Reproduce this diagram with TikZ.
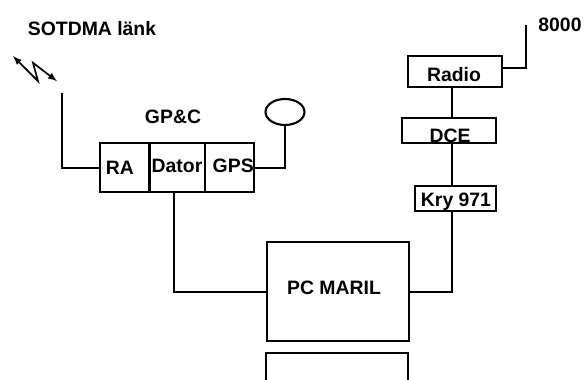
\documentclass[tikz,border=0pt]{standalone}
\usepackage{fontspec}
\setmainfont{Liberation Sans}
\usetikzlibrary{arrows}
\usetikzlibrary{shapes.geometric}
\tikzset{
  box/.style={draw, line width=1.5pt, inner sep=0pt},
  lbl/.style={inner sep=0pt, font=\bfseries\fontsize{13.8}{16}\selectfont},
  wire/.style={line width=1.5pt},
  thinwire/.style={line width=.9pt}
}

\begin{document}
\begin{tikzpicture}[>=latex]
      \useasboundingbox (0, 0) rectangle (14.6, 9.5);
      % GP&C unit
      \node[box, minimum width=1.24cm, minimum height=1.225cm] (ra) at (3.12, 5.31) {};
      \node[box, minimum width=1.39cm, minimum height=1.225cm] (dator) at (4.43, 5.31) {};
      \node[box, minimum width=1.24cm, minimum height=1.225cm] (gps) at (5.74, 5.31) {};
      \node[box, ellipse, minimum width=.975cm, minimum height=.65cm] (gpsant) at (7.125, 6.7) {};
      % right column
      \node[box, minimum width=2.34cm, minimum height=.775cm] (radio) at (11.37, 7.71) {};
      \node[box, minimum width=2.34cm, minimum height=.63cm] (dce) at (11.22, 6.24) {};
      \node[box, minimum width=2.02cm, minimum height=.625cm] (kry) at (11.38, 4.54) {};
      \node[box, minimum width=3.55cm, minimum height=2.475cm] (pc) at (8.44, 2.21) {};
      % free ends
      \coordinate (mast) at (1.55, 7.175);
      \coordinate (tap) at (13.15, 8.875);
      \coordinate (busx) at (11.3, 0);
      \coordinate (datorx) at (4.35, 0);
      \coordinate (zigA) at (.325, 8.1);
      \coordinate (zigB) at (.95, 7.47);
      \coordinate (zigC) at (.825, 7.93);
      \coordinate (zigD) at (1.425, 7.47);
      % connectors
      \draw[wire] (mast) |- (ra.west);
      \draw[wire] (gpsant.south) |- (gps.east);
      \draw[wire] (dator.south -| datorx) |- (pc.west);
      \draw[wire] (kry.south -| busx) |- (pc.east);
      \draw[thinwire] (radio.south -| busx) -- (dce.north -| busx);
      \draw[thinwire] (dce.south -| busx) -- (kry.north -| busx);
      \draw[thinwire] ([yshift=.09cm]radio.east) -| (tap);
      \draw[<->, line width=1.2pt] (zigA) -- (zigB) -- (zigC) -- (zigD);
      % lower box, runs off the page
      \draw[wire] (6.66, 0) |- (10.21, .675) -- (10.21, 0);
      % texts
      \node[lbl] (sotdma) at (2.3, 8.775) {SOTDMA länk};
      \node[lbl] (gpc) at (4.325, 6.575) {GP\&C};
      \node[lbl] (ratext) at (3, 5.3) {RA};
      \node[lbl] (datortext) at (4.425, 5.35) {Dator};
      \node[lbl] (gpstext) at (5.83, 5.35) {GPS};
      \node[lbl] (radiotext) at (11.35, 7.63) {Radio};
      \node[lbl] (dcetext) at (11.25, 6.1) {DCE};
      \node[lbl] (krytext) at (11.4, 4.46) {Kry 971};
      \node[lbl] (pctext) at (8.35, 2.3) {PC MARIL};
      \node[lbl] (freq) at (14, 8.875) {8000};
\end{tikzpicture}
\end{document}
